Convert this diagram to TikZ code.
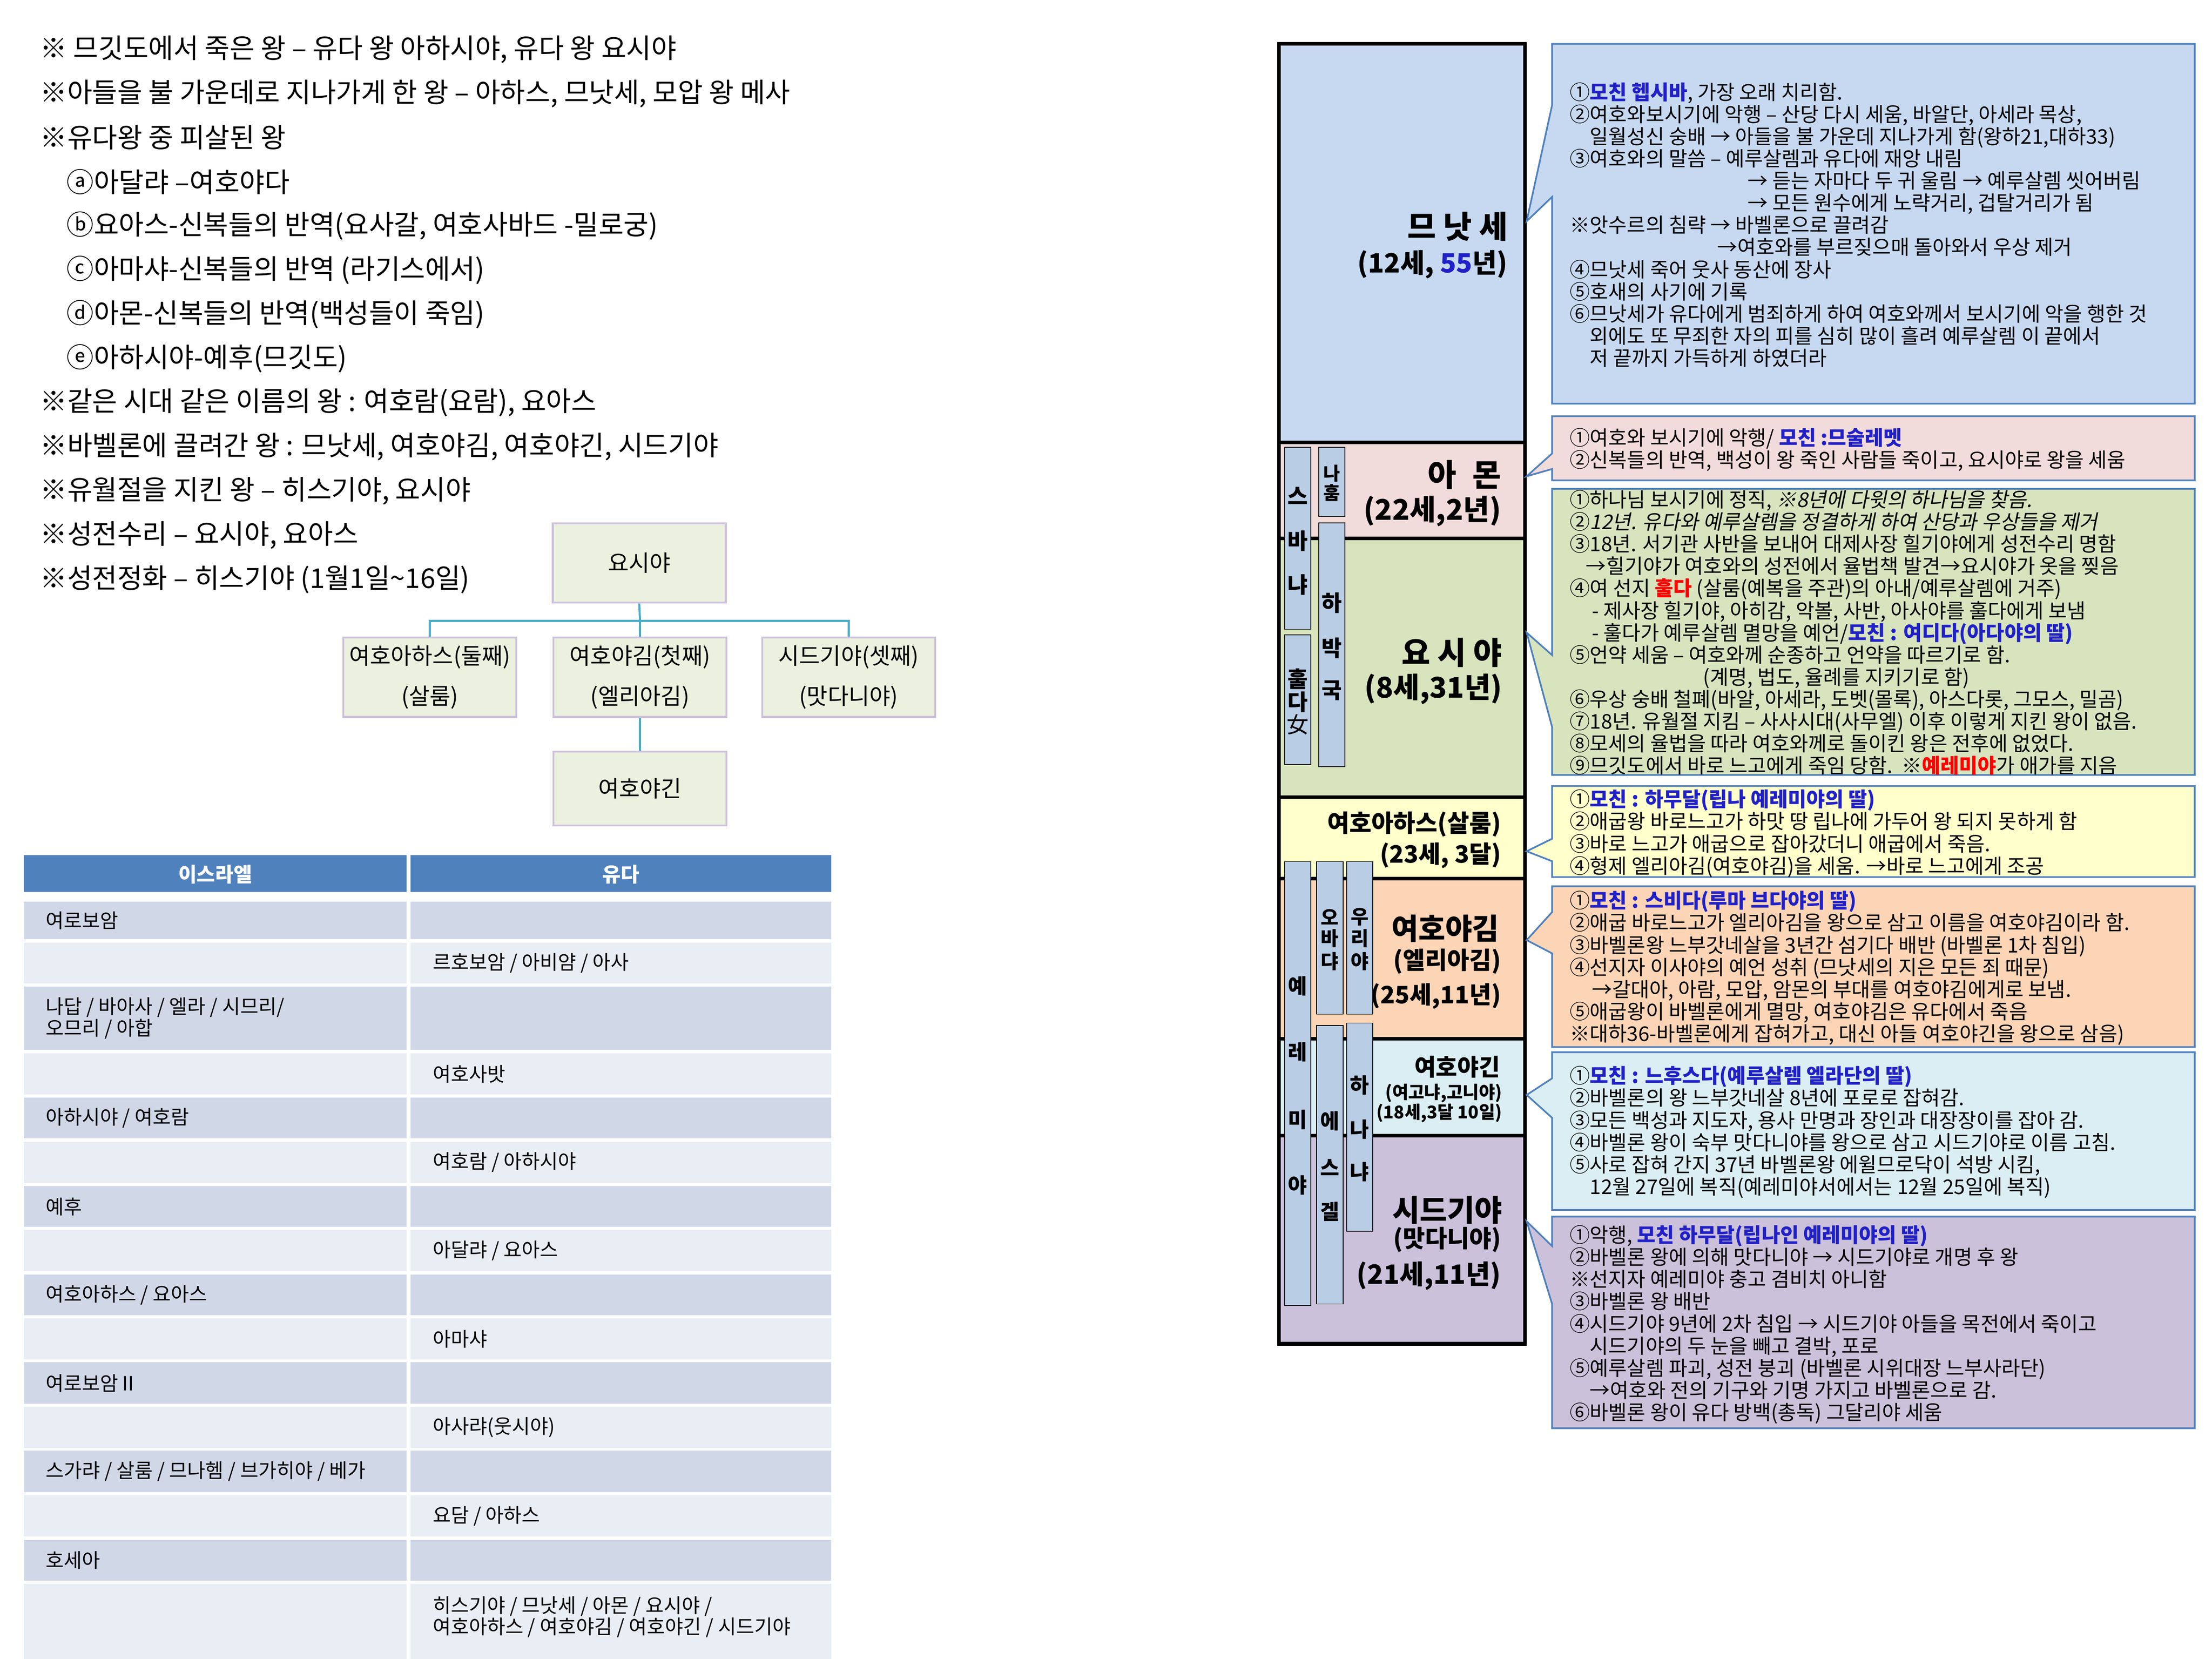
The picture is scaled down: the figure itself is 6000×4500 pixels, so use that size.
\documentclass[tikz,border=0pt]{standalone}
\usepackage{fontspec}
\setmainfont{Noto Sans CJK KR}
\newfontfamily\krit[FakeSlant=0.2]{Noto Sans CJK KR}
\definecolor{kblue}{HTML}{2020C8}
\definecolor{kred}{HTML}{FF0000}
\definecolor{fA}{HTML}{C6D9F1}
\definecolor{fB}{HTML}{F2DCDB}
\definecolor{fC}{HTML}{D7E4BD}
\definecolor{fD}{HTML}{FFFFCC}
\definecolor{fE}{HTML}{FBD5B5}
\definecolor{fF}{HTML}{DBEEF4}
\definecolor{fG}{HTML}{CCC1DA}
\definecolor{barc}{HTML}{B9CDE5}
\definecolor{cbord}{HTML}{4F81BD}
\definecolor{treefill}{HTML}{EBF1DE}
\definecolor{treebord}{HTML}{CCC0DA}
\definecolor{teal}{HTML}{4BACC6}
\definecolor{rowA}{HTML}{D0D8E8}
\definecolor{rowB}{HTML}{E9EDF4}
\newcommand{\bl}[1]{\textcolor{kblue}{\bfseries #1}}
\newcommand{\rd}[1]{\textcolor{kred}{\bfseries #1}}
\newcommand{\mycallout}[6]{\draw[callbox, fill=#1] (4210,#2) -- (5953,#2) -- (5953,#3) -- (4210,#3) -- (4210,#6) -- (4141,#5) -- (4210,#4) -- cycle;}
\tikzset{
  note/.style={anchor=west, inner sep=0pt, font=\fontsize{21}{24}\selectfont},
  tbox/.style={draw=treebord, line width=1.5pt, fill=treefill, minimum width=4.69cm, minimum height=2.15cm, align=center, font=\fontsize{17.5}{31}\selectfont},
  conn/.style={draw=teal, line width=1.6pt},
  tcell/.style={anchor=west, inner sep=0pt, align=left, font=\fontsize{15.2}{16.5}\selectfont},
  kingsec/.style={draw=black, line width=2.8pt},
  bar/.style={draw=black, line width=0.6pt, fill=barc},
  bartxt/.style={inner sep=0pt, font=\fontsize{17}{17}\bfseries\selectfont},
  kname/.style={anchor=east, inner sep=0pt, font=\bfseries},
  callbox/.style={draw=cbord, line width=1.3pt, line join=miter},
  ctext/.style={anchor=west, inner sep=0pt, align=left, font=\fontsize{15.6}{17.1}\selectfont},
}
\begin{document}
\begin{tikzpicture}[x=0.01cm, y=-0.01cm]
\useasboundingbox (0,0) rectangle (6000,4500);
\fill[white] (0,0) rectangle (6000,4500);
% notes
\node[note] (n1) at (108,134) {※ 므깃도에서 죽은 왕 – 유다 왕 아하시야, 유다 왕 요시야};
\node[note] (n2) at (108,254) {※아들을 불 가운데로 지나가게 한 왕 – 아하스, 므낫세, 모압 왕 메사};
\node[note] (n3) at (108,373) {※유다왕 중 피살된 왕};
\node[note] (n4) at (180,493) {ⓐ아달랴 –여호야다};
\node[note] (n5) at (180,613) {ⓑ요아스-신복들의 반역(요사갈, 여호사바드 -밀로궁)};
\node[note] (n6) at (180,732) {ⓒ아마샤-신복들의 반역 (라기스에서)};
\node[note] (n7) at (180,852) {ⓓ아몬-신복들의 반역(백성들이 죽임)};
\node[note] (n8) at (180,972) {ⓔ아하시야-예후(므깃도)};
\node[note] (n9) at (108,1092) {※같은 시대 같은 이름의 왕 : 여호람(요람), 요아스};
\node[note] (n10) at (108,1212) {※바벨론에 끌려간 왕 : 므낫세, 여호야김, 여호야긴, 시드기야};
\node[note] (n11) at (108,1332) {※유월절을 지킨 왕 – 히스기야, 요시야};
\node[note] (n12) at (108,1452) {※성전수리 – 요시야, 요아스};
\node[note] (n13) at (108,1572) {※성전정화 – 히스기야 (1월1일\string~16일)};
% tree
\node[tbox] (yo) at (1734,1527) {요시야};
\node[tbox] (c1) at (1166,1837) {여호아하스(둘째)\\(살룸)};
\node[tbox] (c2) at (1736,1837) {여호야김(첫째)\\(엘리아김)};
\node[tbox] (c3) at (2302,1837) {시드기야(셋째)\\(맛다니야)};
\node[tbox, minimum height=2.0cm] (c4) at (1736,2139) {여호야긴};
\coordinate (bus) at (1736,1684);
\draw[conn] (yo.south) -- (bus);
\draw[conn] (c1.north) |- (bus) -| (c3.north);
\draw[conn] (bus) -- (c2.north);
\draw[conn] (c2.south) -- (c4.north);
% table
\fill[cbord] (65,2320) rectangle (1103,2419);
\fill[cbord] (1113,2320) rectangle (2255,2419);
\node[inner sep=0pt, text=white, font=\fontsize{15.5}{16}\bfseries\selectfont] (h1) at (584,2372) {이스라엘};
\node[inner sep=0pt, text=white, font=\fontsize{15.5}{16}\bfseries\selectfont] (h2) at (1684,2372) {유다};
\foreach \ta/\tb [count=\i] in {2446/2548, 2557/2667, 2676/2847, 2857/2969, 2977/3088, 3097/3209, 3217/3328, 3336/3447, 3457/3568, 3576/3687, 3695/3808, 3816/3927, 3935/4047, 4056/4167, 4177/4287, 4296/4500}{
  \pgfmathparse{mod(\i,2)==1 ? "rowA" : "rowB"}
  \edef\rc{\pgfmathresult}
  \fill[\rc] (65,\ta) rectangle (1103,\tb);
  \fill[\rc] (1113,\ta) rectangle (2255,\tb);
}
\node[tcell] (t1) at (123,2497) {여로보암};
\node[tcell] (t2) at (1173,2612) {르호보암 / 아비얌 / 아사};
\node[tcell] (t3) at (123,2762) {나답 / 바아사 / 엘라 / 시므리/\\오므리 / 아합};
\node[tcell] (t4) at (1173,2913) {여호사밧};
\node[tcell] (t5) at (123,3033) {아하시야 / 여호람};
\node[tcell] (t6) at (1173,3153) {여호람 / 아하시야};
\node[tcell] (t7) at (123,3273) {예후};
\node[tcell] (t8) at (1173,3392) {아달랴 / 요아스};
\node[tcell] (t9) at (123,3513) {여호아하스 / 요아스};
\node[tcell] (t10) at (1173,3632) {아마샤};
\node[tcell] (t11) at (123,3752) {여로보암Ⅱ};
\node[tcell] (t12) at (1173,3872) {아사랴(웃시야)};
\node[tcell] (t13) at (123,3991) {스가랴 / 살룸 / 므나헴 / 브가히야 / 베가};
\node[tcell] (t14) at (1173,4112) {요담 / 아하스};
\node[tcell] (t15) at (123,4232) {호세아};
\node[tcell] (t16) at (1173,4386) {히스기야 / 므낫세 / 아몬 / 요시야 /\\여호아하스 / 여호야김 / 여호야긴 / 시드기야};
% king column
\fill[fA] (3469,119) rectangle (4136,1200);
\fill[fB] (3469,1200) rectangle (4136,1460);
\fill[fC] (3469,1460) rectangle (4136,2162);
\fill[fD] (3469,2162) rectangle (4136,2383);
\fill[fE] (3469,2383) rectangle (4136,2818);
\fill[fF] (3469,2818) rectangle (4136,3080);
\fill[fG] (3469,3080) rectangle (4136,3645);
\foreach \yy in {1200,1460,2162,2383,2818,3080}{\draw[kingsec] (3469,\yy) -- (4136,\yy);}
\draw[kingsec] (3469,119) rectangle (4136,3645);
% prophet bars
\draw[bar] (3485,1213) rectangle (3556,1707);
\draw[bar] (3485,1722) rectangle (3556,2074);
\draw[bar] (3577,1213) rectangle (3648,1400);
\draw[bar] (3577,1418) rectangle (3648,2080);
\draw[bar] (3485,2337) rectangle (3556,3541);
\draw[bar] (3571,2337) rectangle (3643,2751);
\draw[bar] (3571,2782) rectangle (3643,3537);
\draw[bar] (3653,2337) rectangle (3724,2751);
\draw[bar] (3653,2775) rectangle (3724,3340);
\foreach \c/\yy in {스/1345,바/1467,냐/1586,훌/1842,다/1904}{\node[bartxt] at (3520,\yy) {\c};}
\node[inner sep=0pt, font=\fontsize{17}{17}\selectfont] at (3520,1965) {女};
\foreach \c/\yy in {나/1284,훔/1337}{\node[bartxt, font=\fontsize{14}{14}\bfseries\selectfont] at (3612,\yy) {\c};}
\foreach \c/\yy in {하/1636,박/1758,국/1873}{\node[bartxt] at (3612,\yy) {\c};}
\foreach \c/\yy in {예/2675,레/2853,미/3037,야/3215}{\node[bartxt, font=\fontsize{16}{16}\bfseries\selectfont] at (3520,\yy) {\c};}
\foreach \c/\yy in {오/2487,바/2545,댜/2608}{\node[bartxt, font=\fontsize{15}{15}\bfseries\selectfont] at (3607,\yy) {\c};}
\foreach \c/\yy in {에/3041,스/3166,겔/3287}{\node[bartxt, font=\fontsize{16}{16}\bfseries\selectfont] at (3607,\yy) {\c};}
\foreach \c/\yy in {우/2487,리/2545,야/2608}{\node[bartxt, font=\fontsize{15}{15}\bfseries\selectfont] at (3688,\yy) {\c};}
\foreach \c/\yy in {하/2943,나/3063,냐/3179}{\node[bartxt, font=\fontsize{16}{16}\bfseries\selectfont] at (3688,\yy) {\c};}
% king names
\node[kname, font=\fontsize{24}{24}\bfseries\selectfont] (k1) at (4090,615) {므 낫 세};
\node[kname, font=\fontsize{20.5}{24}\bfseries\selectfont] (k1b) at (4090,718) {(12세, \textcolor{kblue}{55}년)};
\node[kname, font=\fontsize{24}{24}\bfseries\selectfont] (k2) at (4072,1288) {아\hspace{0.43cm}몬};
\node[kname, font=\fontsize{22}{24}\bfseries\selectfont] (k2b) at (4072,1387) {(22세,2년)};
\node[kname, font=\fontsize{24}{24}\bfseries\selectfont] (k3) at (4075,1770) {요 시 야};
\node[kname, font=\fontsize{22}{24}\bfseries\selectfont] (k3b) at (4075,1869) {(8세,31년)};
\node[kname, font=\fontsize{18.5}{24}\bfseries\selectfont] (k4) at (4072,2236) {여호아하스(살룸)};
\node[kname, font=\fontsize{18.5}{24}\bfseries\selectfont] (k4b) at (4072,2320) {(23세, 3달)};
\node[kname, font=\fontsize{22.5}{24}\bfseries\selectfont] (k5) at (4067,2519) {여호야김};
\node[kname, font=\fontsize{18.5}{24}\bfseries\selectfont] (k5b) at (4072,2608) {(엘리아김)};
\node[kname, font=\fontsize{18.5}{24}\bfseries\selectfont] (k5c) at (4072,2702) {(25세,11년)};
\node[kname, font=\fontsize{18}{24}\bfseries\selectfont] (k6) at (4070,2894) {여호야긴};
\node[kname, font=\fontsize{13.5}{24}\bfseries\selectfont] (k6b) at (4075,2965) {(여고냐,고니야)};
\node[kname, font=\fontsize{13.5}{24}\bfseries\selectfont] (k6c) at (4075,3019) {(18세,3달 10일)};
\node[kname, font=\fontsize{23}{24}\bfseries\selectfont] (k7) at (4075,3282) {시드기야};
\node[kname, font=\fontsize{18.5}{24}\bfseries\selectfont] (k7b) at (4072,3362) {(맛다니야)};
\node[kname, font=\fontsize{20.5}{24}\bfseries\selectfont] (k7c) at (4072,3461) {(21세,11년)};
% callouts
\mycallout{fA}{119}{1095}{285}{600}{534}
\mycallout{fB}{1129}{1303}{1230}{1292}{1272}
\mycallout{fC}{1326}{2102}{1777}{1716}{1972}
\mycallout{fD}{2132}{2379}{2275}{2309}{2336}
\mycallout{fE}{2404}{2840}{2474}{2550}{2586}
\mycallout{fF}{2854}{3282}{2925}{2970}{3032}
\mycallout{fG}{3300}{3874}{3380}{3313}{3537}
\node[ctext] (d1) at (4257,610) {①\bl{모친 헵시바}, 가장 오래 치리함.\\
②여호와보시기에 악행 – 산당 다시 세움, 바알단, 아세라 목상,\\
\hspace*{1em}일월성신 숭배 → 아들을 불 가운데 지나가게 함(왕하21,대하33)\\
③여호와의 말씀 – 예루살렘과 유다에 재앙 내림\\
\hspace*{8.8em}→ 듣는 자마다 두 귀 울림 → 예루살렘 씻어버림\\
\hspace*{8.8em}→ 모든 원수에게 노략거리, 겁탈거리가 됨\\
※앗수르의 침략 → 바벨론으로 끌려감\\
\hspace*{7.3em}→여호와를 부르짖으매 돌아와서 우상 제거\\
④므낫세 죽어 웃사 동산에 장사\\
⑤호새의 사기에 기록\\
⑥므낫세가 유다에게 범죄하게 하여 여호와께서 보시기에 악을 행한 것\\
\hspace*{1em}외에도 또 무죄한 자의 피를 심히 많이 흘려 예루살렘 이 끝에서\\
\hspace*{1em}저 끝까지 가득하게 하였더라};
\node[ctext] (d2) at (4257,1220) {①여호와 보시기에 악행/ \bl{모친 :므술레멧}\\
②신복들의 반역, 백성이 왕 죽인 사람들 죽이고, 요시야로 왕을 세움};
\node[ctext] (d3) at (4257,1716) {①하나님 보시기에 정직, {\krit ※8년에 다윗의 하나님을 찾음.}\\
②{\krit 12년. 유다와 예루살렘을 정결하게 하여 산당과 우상들을 제거}\\
③18년. 서기관 사반을 보내어 대제사장 힐기야에게 성전수리 명함\\
\hspace*{0.8em}→힐기야가 여호와의 성전에서 율법책 발견→요시야가 옷을 찢음\\
④여 선지 \rd{훌다} (살룸(예복을 주관)의 아내/예루살렘에 거주)\\
\hspace*{1.1em}- 제사장 힐기야, 아히감, 악볼, 사반, 아사야를 훌다에게 보냄\\
\hspace*{1.1em}- 훌다가 예루살렘 멸망을 예언/\bl{모친 : 여디다(아다야의 딸)}\\
⑤언약 세움 – 여호와께 순종하고 언약을 따르기로 함.\\
\hspace*{6.6em}(계명, 법도, 율례를 지키기로 함)\\
⑥우상 숭배 철폐(바알, 아세라, 도벳(몰록), 아스다롯, 그모스, 밀곰)\\
⑦18년. 유월절 지킴 – 사사시대(사무엘) 이후 이렇게 지킨 왕이 없음.\\
⑧모세의 율법을 따라 여호와께로 돌이킨 왕은 전후에 없었다.\\
⑨므깃도에서 바로 느고에게 죽임 당함.\ \ ※\rd{예레미야}가 애가를 지음};
\node[ctext] (d4) at (4257,2261) {①\bl{모친 : 하무달(립나 예레미야의 딸)}\\
②애굽왕 바로느고가 하맛 땅 립나에 가두어 왕 되지 못하게 함\\
③바로 느고가 애굽으로 잡아갔더니 애굽에서 죽음.\\
④형제 엘리아김(여호야김)을 세움. →바로 느고에게 조공};
\node[ctext] (d5) at (4257,2626) {①\bl{모친 : 스비다(루마 브다야의 딸)}\\
②애굽 바로느고가 엘리아김을 왕으로 삼고 이름을 여호야김이라 함.\\
③바벨론왕 느부갓네살을 3년간 섬기다 배반 (바벨론 1차 침입)\\
④선지자 이사야의 예언 성취 (므낫세의 지은 모든 죄 때문)\\
\hspace*{1.1em}→갈대아, 아람, 모압, 암몬의 부대를 여호야김에게로 보냄.\\
⑤애굽왕이 바벨론에게 멸망, 여호야김은 유다에서 죽음\\
※대하36-바벨론에게 잡혀가고, 대신 아들 여호야긴을 왕으로 삼음)};
\node[ctext] (d6) at (4257,3071) {①\bl{모친 : 느후스다(예루살렘 엘라단의 딸)}\\
②바벨론의 왕 느부갓네살 8년에 포로로 잡혀감.\\
③모든 백성과 지도자, 용사 만명과 장인과 대장장이를 잡아 감.\\
④바벨론 왕이 숙부 맛다니야를 왕으로 삼고 시드기야로 이름 고침.\\
⑤사로 잡혀 간지 37년 바벨론왕 에윌므로닥이 석방 시킴,\\
\hspace*{1em}12월 27일에 복직(예레미야서에서는 12월 25일에 복직)};
\node[ctext] (d7) at (4257,3593) {①악행, \bl{모친 하무달(립나인 예레미야의 딸)}\\
②바벨론 왕에 의해 맛다니야 → 시드기야로 개명 후 왕\\
※선지자 예레미야 충고 겸비치 아니함\\
③바벨론 왕 배반\\
④시드기야 9년에 2차 침입 → 시드기야 아들을 목전에서 죽이고\\
\hspace*{1em}시드기야의 두 눈을 빼고 결박, 포로\\
⑤예루살렘 파괴, 성전 붕괴 (바벨론 시위대장 느부사라단)\\
\hspace*{1em}→여호와 전의 기구와 기명 가지고 바벨론으로 감.\\
⑥바벨론 왕이 유다 방백(총독) 그달리야 세움};
\end{tikzpicture}
\end{document}
